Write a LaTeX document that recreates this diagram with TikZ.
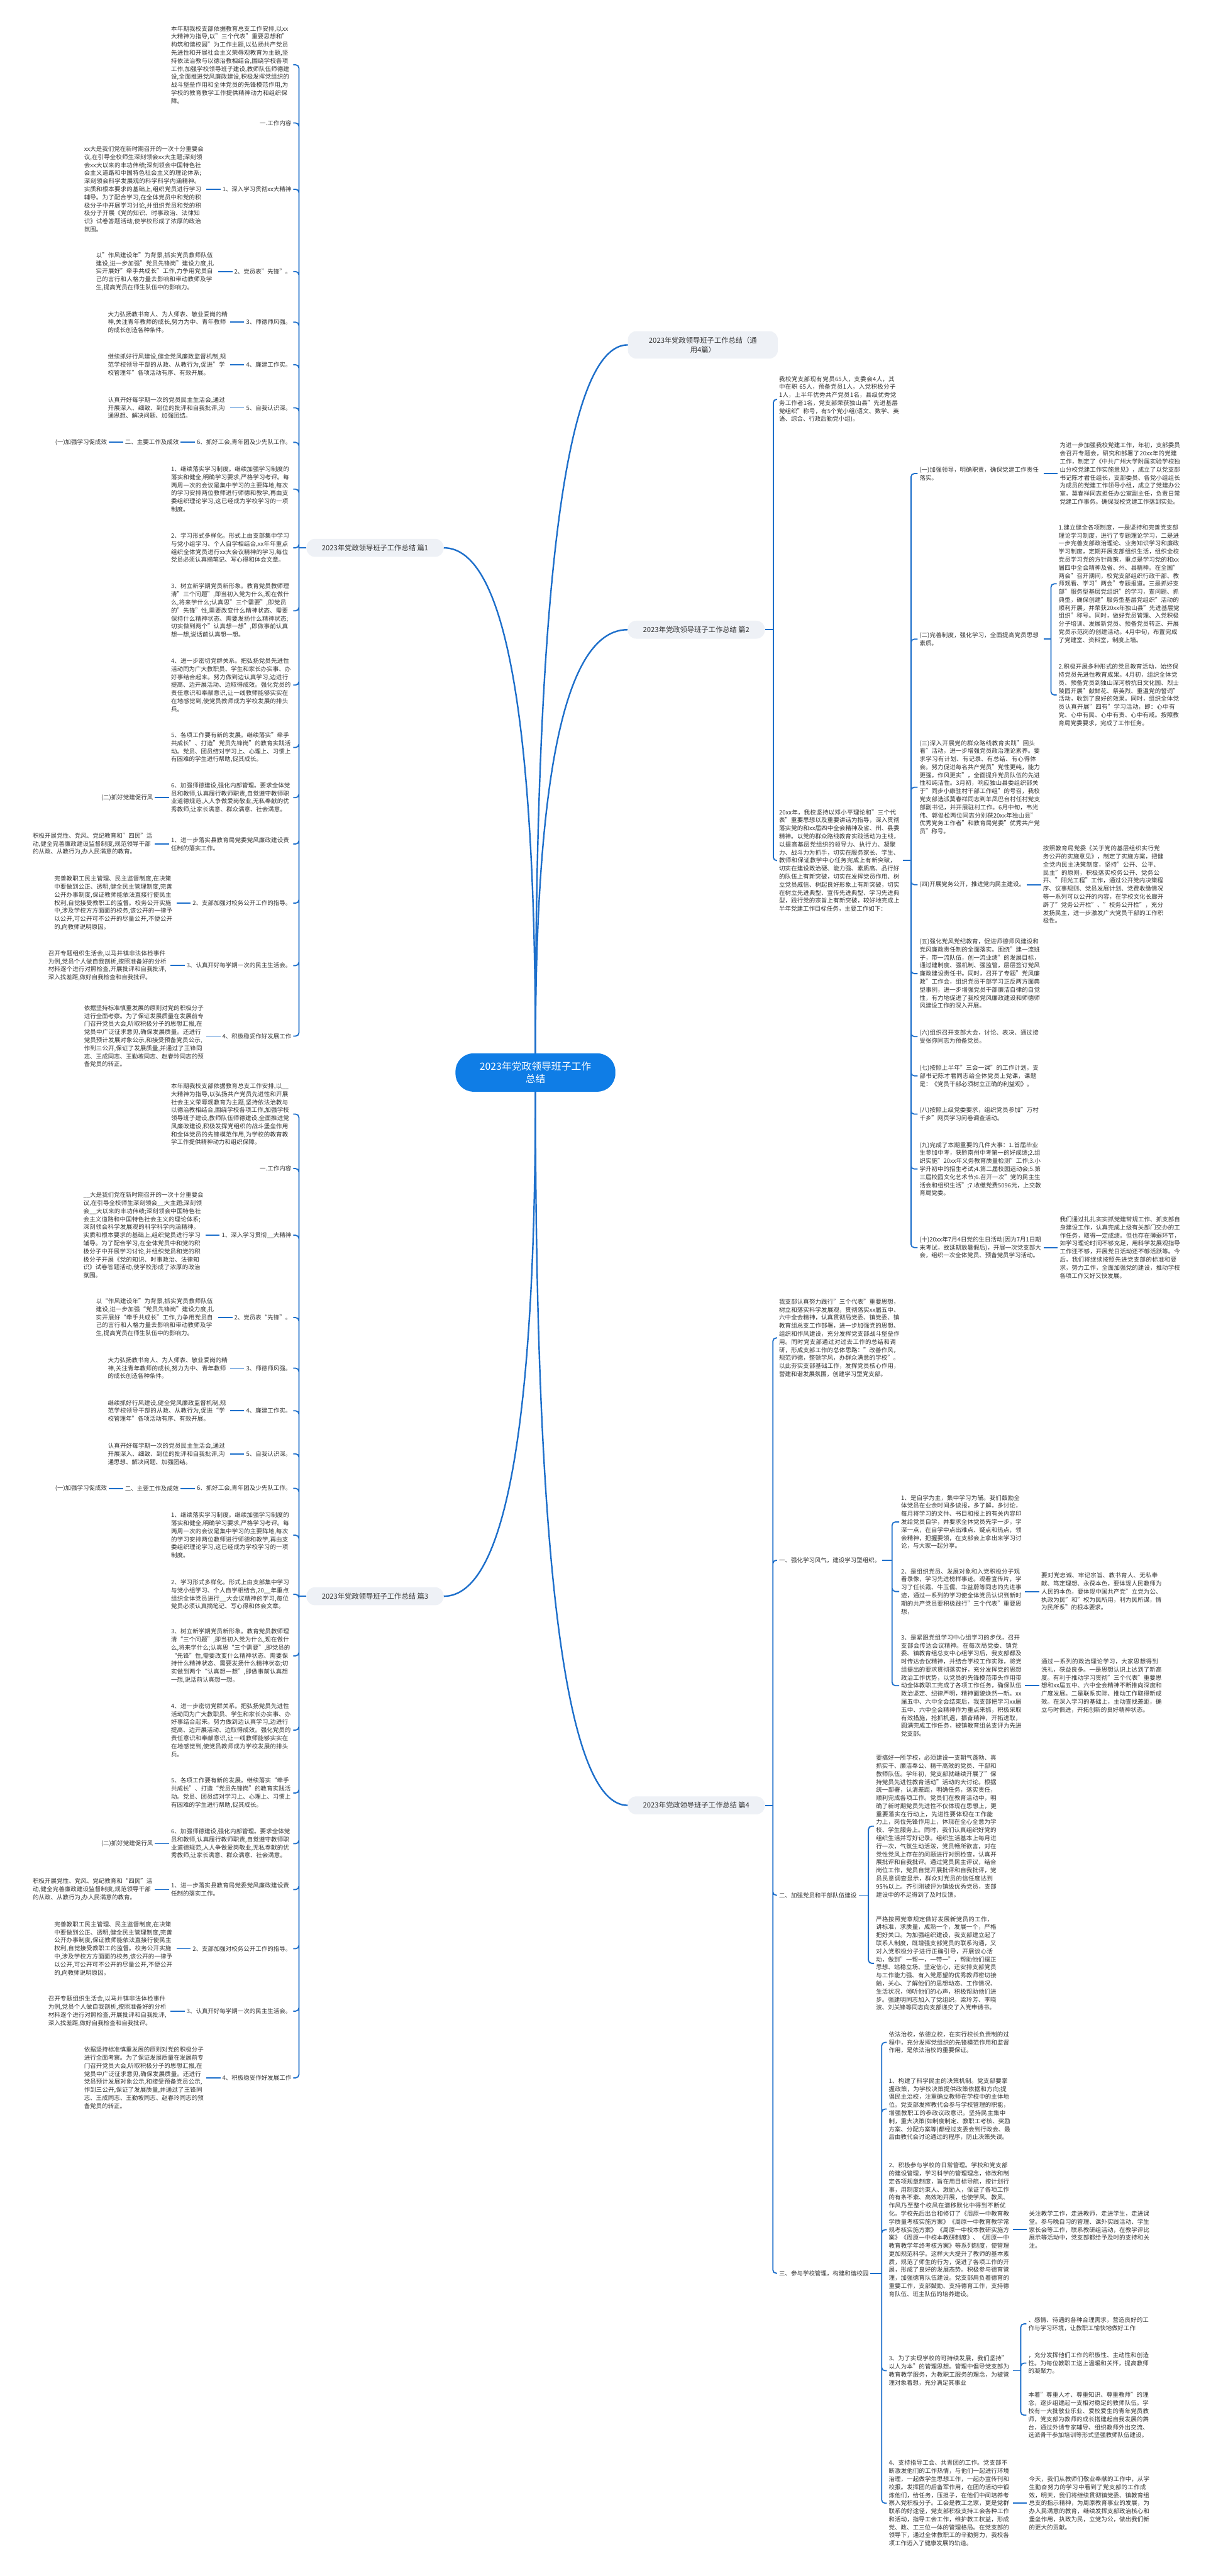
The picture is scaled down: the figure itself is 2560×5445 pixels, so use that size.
\documentclass[tikz,border=0pt]{standalone}
\usepackage{fontspec}
\setmainfont{Noto Sans CJK SC}
\XeTeXlinebreaklocale "zh"
\XeTeXlinebreakskip=0pt plus 1pt
\usepackage{tikz}
\usetikzlibrary{positioning,calc}
\definecolor{cazul}{HTML}{0F7DE6}
\definecolor{clinea}{HTML}{1D6FCB}
\definecolor{cfondo}{HTML}{EEF1F6}
\definecolor{ctexto}{HTML}{333333}
\tikzset{
  raiz/.style={rectangle, rounded corners=38pt, fill=cazul, text=white,
    minimum width=338pt, minimum height=81pt, align=center,
    font=\fontsize{21}{27}\selectfont},
  tema/.style={rectangle, rounded corners=18pt, fill=cfondo, text=ctexto,
    minimum width=290pt, minimum height=38pt, align=center,
    font=\fontsize{15}{20}\selectfont},
  etq/.style={inner sep=4pt, text=ctexto, font=\fontsize{12.6}{17}\selectfont},
  parr/.style={etq, text width=254pt, align=left},
  parrd/.style={etq, text width=258pt, align=left},
  rama/.style={draw=clinea, line width=2.4pt, rounded corners=7pt},
  tronco/.style={draw=clinea, line width=3.2pt},
}

\begin{document}
\begin{tikzpicture}[x=1pt, y=-1pt, node distance=30pt]
  \fill[white] (0,0) rectangle (2560,5445);
  \useasboundingbox (0,0) rectangle (2560,5445);

  % centro y ramas principales
  \node[raiz] (c) at (1132,2267) {2023年党政领导班子工作\\总结};
  \node[tema, minimum width=317pt, minimum height=58pt] (p0) at (1486,729) {2023年党政领导班子工作总结（通\\用4篇）};
  \node[tema] (p1) at (793,1158) {2023年党政领导班子工作总结 篇1};
  \node[tema] (p2) at (1472,1331) {2023年党政领导班子工作总结 篇2};
  \node[tema] (p3) at (793,3374) {2023年党政领导班子工作总结 篇3};
  \node[tema] (p4) at (1472,3816) {2023年党政领导班子工作总结 篇4};

  \coordinate (k0) at (c.north |- p0.west);
  \coordinate (k1) at (c.north |- p1.east);
  \coordinate (k2) at (c.north |- p2.west);
  \coordinate (k3) at (c.south |- p3.east);
  \coordinate (k4) at (c.south |- p4.west);
  \draw[tronco] (c.north) .. controls ($(c.north)!.667!(k0)$) and ($(p0.west)!.667!(k0)$) .. (p0.west);
  \draw[tronco] (c.north) .. controls ($(c.north)!.667!(k1)$) and ($(p1.east)!.667!(k1)$) .. (p1.east);
  \draw[tronco] (c.north) .. controls ($(c.north)!.667!(k2)$) and ($(p2.west)!.667!(k2)$) .. (p2.west);
  \draw[tronco] (c.south) .. controls ($(c.south)!.667!(k3)$) and ($(p3.east)!.667!(k3)$) .. (p3.east);
  \draw[tronco] (c.south) .. controls ($(c.south)!.667!(k4)$) and ($(p4.west)!.667!(k4)$) .. (p4.west);

  % ---------------- 篇1 ----------------
  \node[parr, anchor=east] (a1) at (620,137) {本年期我校支部依据教育总支工作安排,以xx大精神为指导,以"三个代表"重要思想和"构筑和谐校园"为工作主题,以弘扬共产党员先进性和开展社会主义荣辱观教育为主题,坚持依法治教与以德治教相结合,围绕学校各项工作,加强学校领导班子建设,教师队伍师德建设,全面推进党风廉政建设,积极发挥党组织的战斗堡垒作用和全体党员的先锋模范作用,为学校的教育教学工作提供精神动力和组织保障。};
  \node[etq, anchor=east] (a2) at (620,260) {一.工作内容};
  \node[etq, anchor=east] (a3) at (620,400) {1、深入学习贯彻xx大精神};
  \node[etq, anchor=east] (a4) at (620,574) {2、党员表"先锋"。};
  \node[etq, anchor=east] (a5) at (620,681) {3、师德师风强。};
  \node[etq, anchor=east] (a6) at (620,771) {4、廉建工作实。};
  \node[etq, anchor=east] (a7) at (620,862) {5、自我认识深。};
  \node[etq, anchor=east] (a8) at (620,935) {6、抓好工会,青年团及少先队工作。};
  \node[parr, anchor=east] (a9) at (620,1034) {1、继续落实学习制度。继续加强学习制度的落实和健全,明确学习要求,严格学习考评。每两周一次的会议是集中学习的主要阵地,每次的学习安排两位教师进行师德和教学,再由支委组织理论学习,这已经成为学校学习的一项制度。};
  \node[parr, anchor=east] (a10) at (620,1158) {2、学习形式多样化。形式上由支部集中学习与党小组学习、个人自学相结合,xx年年重点组织全体党员进行xx大会议精神的学习,每位党员必须认真摘笔记、写心得和体会文章。};
  \node[parr, anchor=east] (a11) at (620,1291) {3、树立新学期党员新形象。教育党员教师理清"三个问题",即当初入党为什么,现在做什么,将来学什么;认真思"三个需要",即党员的"先锋"性,需要改变什么精神状态、需要保持什么精神状态、需要发扬什么精神状态;切实做到两个"认真想一想",即做事前认真想一想,说话前认真想一想。};
  \node[parr, anchor=east] (a12) at (620,1448) {4、进一步密切党群关系。把弘扬党员先进性活动同为广大教职员、学生和家长办实事、办好事结合起来。努力做到边认真学习,边进行提高、边开展活动、边取得成效。强化党员的责任意识和奉献意识,让一线教师能够实实在在地感觉到,使党员教师成为学校发展的排头兵。};
  \node[parr, anchor=east] (a13) at (620,1580) {5、各项工作要有新的发展。继续落实"牵手共成长"、打造"党员先锋岗"的教育实践活动。党员、团员结对学习上、心理上、习惯上有困难的学生进行帮助,促其成长。};
  \node[parr, anchor=east] (a14) at (620,1686) {6、加强师德建设,强化内部管理。要求全体党员和教师,认真履行教师职责,自觉遵守教师职业道德规范,人人争做爱岗敬业,无私奉献的优秀教师,让家长满意、群众满意、社会满意。};
  \node[parr, anchor=east] (a15) at (620,1784) {1、进一步落实县教育局党委党风廉政建设责任制的落实工作。};
  \node[etq, anchor=east] (a16) at (620,1909) {2、支部加强对校务公开工作的指导。};
  \node[etq, anchor=east] (a17) at (620,2041) {3、认真开好每学期一次的民主生活会。};
  \node[etq, anchor=east] (a18) at (620,2190) {4、积极稳妥作好发展工作};

  \node[parr, left=of a3] (a3h) {xx大是我们党在新时期召开的一次十分重要会议,在引导全校师生深刻领会xx大主题;深刻领会xx大以来的丰功伟绩;深刻领会中国特色社会主义道路和中国特色社会主义的理论体系;深刻领会科学发展观的科学科学内涵精神。实质和根本要求的基础上,组织党员进行学习辅导。为了配合学习,在全体党员中和党的积极分子中开展学习讨论,并组织党员和党的积极分子开展《党的知识、时事政治、法律知识》试卷答题活动,使学校形成了浓厚的政治氛围。};
  \node[parr, left=of a4] (a4h) {以"作风建设年"为背景,抓实党员教师队伍建设,进一步加强"党员先锋岗"建设力度,扎实开展好"牵手共成长"工作,力争用党员自己的言行和人格力量去影响和带动教师及学生,提高党员在师生队伍中的影响力。};
  \node[parr, left=of a5] (a5h) {大力弘扬教书育人、为人师表、敬业爱岗的精神,关注青年教师的成长,努力为中、青年教师的成长创造各种条件。};
  \node[parr, left=of a6] (a6h) {继续抓好行风建设,健全党风廉政监督机制,规范学校领导干部的从政、从教行为,促进"学校管理年"各项活动有序、有效开展。};
  \node[parr, left=of a7] (a7h) {认真开好每学期一次的党员民主生活会,通过开展深入、细致、到位的批评和自我批评,沟通思想、解决问题、加强团结。};
  \node[etq, left=of a8] (a8h) {二、主要工作及成效};
  \node[etq, left=of a8h] (a8hh) {(一)加强学习促成效};
  \node[etq, left=of a14] (a14h) {(二)抓好党建促行风};
  \node[parr, left=of a15] (a15h) {积极开展党性、党风、党纪教育和"四民"活动,健全完善廉政建设监督制度,规范领导干部的从政、从教行为,办人民满意的教育。};
  \node[parr, left=of a16] (a16h) {完善教职工民主管理、民主监督制度,在决策中要做到公正、透明,健全民主管理制度,完善公开办事制度,保证教师能依法直接行使民主权利,自觉接受教职工的监督。校务公开实施中,涉及学校方方面面的校务,该公开的一律予以公开,可公开可不公开的尽量公开,不便公开的,向教师说明原因。};
  \node[parr, left=of a17] (a17h) {召开专题组织生活会,以马井镇非法体检事件为例,党员个人做自我剖析,按照准备好的分析材料逐个进行对照检查,开展批评和自我批评,深入找差距,做好自我检查和自我批评。};
  \node[parr, left=of a18] (a18h) {依据坚持标准慎重发展的原则对党的积极分子进行全面考察。为了保证发展质量在发展前专门召开党员大会,听取积极分子的思想汇报,在党员中广泛征求意见,确保发展质量。还进行党员预计发展对象公示,和接受预备党员公示,作到三公开,保证了发展质量,并通过了王锋同志、王成同志、王勤坡同志、赵春玲同志的预备党员的转正。};

  \coordinate (s1) at (632,0);
  \draw[rama] (p1.west) -- (p1.west -| s1);
  \draw[rama] (p1.west -| s1) |- (a1.east) (p1.west -| s1) |- (a2.east)
    (p1.west -| s1) |- (a3.east) (p1.west -| s1) |- (a4.east)
    (p1.west -| s1) |- (a5.east) (p1.west -| s1) |- (a6.east)
    (p1.west -| s1) |- (a7.east) (p1.west -| s1) |- (a8.east)
    (p1.west -| s1) |- (a9.east) (p1.west -| s1) |- (a10.east)
    (p1.west -| s1) |- (a11.east) (p1.west -| s1) |- (a12.east)
    (p1.west -| s1) |- (a13.east) (p1.west -| s1) |- (a14.east)
    (p1.west -| s1) |- (a15.east) (p1.west -| s1) |- (a16.east)
    (p1.west -| s1) |- (a17.east) (p1.west -| s1) |- (a18.east);
  \draw[rama] (a3.west) -- (a3h.east);
  \draw[rama] (a4.west) -- (a4h.east);
  \draw[rama] (a5.west) -- (a5h.east);
  \draw[rama] (a6.west) -- (a6h.east);
  \draw[rama] (a7.west) -- (a7h.east);
  \draw[rama] (a8.west) -- (a8h.east);
  \draw[rama] (a8h.west) -- (a8hh.east);
  \draw[rama] (a14.west) -- (a14h.east);
  \draw[rama] (a15.west) -- (a15h.east);
  \draw[rama] (a16.west) -- (a16h.east);
  \draw[rama] (a17.west) -- (a17h.east);
  \draw[rama] (a18.west) -- (a18h.east);

  % ---------------- 篇3 ----------------
  \node[parr, anchor=east] (b1) at (620,2355) {本年期我校支部依据教育总支工作安排,以\_\_大精神为指导,以弘扬共产党员先进性和开展社会主义荣辱观教育为主题,坚持依法治教与以德治教相结合,围绕学校各项工作,加强学校领导班子建设,教师队伍师德建设,全面推进党风廉政建设,积极发挥党组织的战斗堡垒作用和全体党员的先锋模范作用,为学校的教育教学工作提供精神动力和组织保障。};
  \node[etq, anchor=east] (b2) at (620,2470) {一.工作内容};
  \node[etq, anchor=east] (b3) at (620,2611) {1、深入学习贯彻\_\_大精神};
  \node[etq, anchor=east] (b4) at (620,2785) {2、党员表“先锋”。};
  \node[etq, anchor=east] (b5) at (620,2892) {3、师德师风强。};
  \node[etq, anchor=east] (b6) at (620,2982) {4、廉建工作实。};
  \node[etq, anchor=east] (b7) at (620,3073) {5、自我认识深。};
  \node[etq, anchor=east] (b8) at (620,3146) {6、抓好工会,青年团及少先队工作。};
  \node[parr, anchor=east] (b9) at (620,3245) {1、继续落实学习制度。继续加强学习制度的落实和健全,明确学习要求,严格学习考评。每两周一次的会议是集中学习的主要阵地,每次的学习安排两位教师进行师德和教学,再由支委组织理论学习,这已经成为学校学习的一项制度。};
  \node[parr, anchor=east] (b10) at (620,3370) {2、学习形式多样化。形式上由支部集中学习与党小组学习、个人自学相结合,20\_\_年重点组织全体党员进行\_\_大会议精神的学习,每位党员必须认真摘笔记、写心得和体会文章。};
  \node[parr, anchor=east] (b11) at (620,3500) {3、树立新学期党员新形象。教育党员教师理清“三个问题”,即当初入党为什么,现在做什么,将来学什么;认真思“三个需要”,即党员的“先锋”性,需要改变什么精神状态、需要保持什么精神状态、需要发扬什么精神状态;切实做到两个“认真想一想”,即做事前认真想一想,说话前认真想一想。};
  \node[parr, anchor=east] (b12) at (620,3657) {4、进一步密切党群关系。把弘扬党员先进性活动同为广大教职员、学生和家长办实事、办好事结合起来。努力做到边认真学习,边进行提高、边开展活动、边取得成效。强化党员的责任意识和奉献意识,让一线教师能够实实在在地感觉到,使党员教师成为学校发展的排头兵。};
  \node[parr, anchor=east] (b13) at (620,3790) {5、各项工作要有新的发展。继续落实“牵手共成长”、打造“党员先锋岗”的教育实践活动。党员、团员结对学习上、心理上、习惯上有困难的学生进行帮助,促其成长。};
  \node[parr, anchor=east] (b14) at (620,3897) {6、加强师德建设,强化内部管理。要求全体党员和教师,认真履行教师职责,自觉遵守教师职业道德规范,人人争做爱岗敬业,无私奉献的优秀教师,让家长满意、群众满意、社会满意。};
  \node[parr, anchor=east] (b15) at (620,3994) {1、进一步落实县教育局党委党风廉政建设责任制的落实工作。};
  \node[etq, anchor=east] (b16) at (620,4119) {2、支部加强对校务公开工作的指导。};
  \node[etq, anchor=east] (b17) at (620,4251) {3、认真开好每学期一次的民主生活会。};
  \node[etq, anchor=east] (b18) at (620,4392) {4、积极稳妥作好发展工作};

  \node[parr, left=of b3] (b3h) {\_\_大是我们党在新时期召开的一次十分重要会议,在引导全校师生深刻领会\_\_大主题;深刻领会\_\_大以来的丰功伟绩;深刻领会中国特色社会主义道路和中国特色社会主义的理论体系;深刻领会科学发展观的科学科学内涵精神。实质和根本要求的基础上,组织党员进行学习辅导。为了配合学习,在全体党员中和党的积极分子中开展学习讨论,并组织党员和党的积极分子开展《党的知识、时事政治、法律知识》试卷答题活动,使学校形成了浓厚的政治氛围。};
  \node[parr, left=of b4] (b4h) {以“作风建设年”为背景,抓实党员教师队伍建设,进一步加强“党员先锋岗”建设力度,扎实开展好“牵手共成长”工作,力争用党员自己的言行和人格力量去影响和带动教师及学生,提高党员在师生队伍中的影响力。};
  \node[parr, left=of b5] (b5h) {大力弘扬教书育人、为人师表、敬业爱岗的精神,关注青年教师的成长,努力为中、青年教师的成长创造各种条件。};
  \node[parr, left=of b6] (b6h) {继续抓好行风建设,健全党风廉政监督机制,规范学校领导干部的从政、从教行为,促进“学校管理年”各项活动有序、有效开展。};
  \node[parr, left=of b7] (b7h) {认真开好每学期一次的党员民主生活会,通过开展深入、细致、到位的批评和自我批评,沟通思想、解决问题、加强团结。};
  \node[etq, left=of b8] (b8h) {二、主要工作及成效};
  \node[etq, left=of b8h] (b8hh) {(一)加强学习促成效};
  \node[etq, left=of b14] (b14h) {(二)抓好党建促行风};
  \node[parr, left=of b15] (b15h) {积极开展党性、党风、党纪教育和“四民”活动,健全完善廉政建设监督制度,规范领导干部的从政、从教行为,办人民满意的教育。};
  \node[parr, left=of b16] (b16h) {完善教职工民主管理、民主监督制度,在决策中要做到公正、透明,健全民主管理制度,完善公开办事制度,保证教师能依法直接行使民主权利,自觉接受教职工的监督。校务公开实施中,涉及学校方方面面的校务,该公开的一律予以公开,可公开可不公开的尽量公开,不便公开的,向教师说明原因。};
  \node[parr, left=of b17] (b17h) {召开专题组织生活会,以马井镇非法体检事件为例,党员个人做自我剖析,按照准备好的分析材料逐个进行对照检查,开展批评和自我批评,深入找差距,做好自我检查和自我批评。};
  \node[parr, left=of b18] (b18h) {依据坚持标准慎重发展的原则对党的积极分子进行全面考察。为了保证发展质量在发展前专门召开党员大会,听取积极分子的思想汇报,在党员中广泛征求意见,确保发展质量。还进行党员预计发展对象公示,和接受预备党员公示,作到三公开,保证了发展质量,并通过了王锋同志、王成同志、王勤坡同志、赵春玲同志的预备党员的转正。};

  \coordinate (s3) at (632,0);
  \draw[rama] (p3.west) -- (p3.west -| s3);
  \draw[rama] (p3.west -| s3) |- (b1.east) (p3.west -| s3) |- (b2.east)
    (p3.west -| s3) |- (b3.east) (p3.west -| s3) |- (b4.east)
    (p3.west -| s3) |- (b5.east) (p3.west -| s3) |- (b6.east)
    (p3.west -| s3) |- (b7.east) (p3.west -| s3) |- (b8.east)
    (p3.west -| s3) |- (b9.east) (p3.west -| s3) |- (b10.east)
    (p3.west -| s3) |- (b11.east) (p3.west -| s3) |- (b12.east)
    (p3.west -| s3) |- (b13.east) (p3.west -| s3) |- (b14.east)
    (p3.west -| s3) |- (b15.east) (p3.west -| s3) |- (b16.east)
    (p3.west -| s3) |- (b17.east) (p3.west -| s3) |- (b18.east);
  \draw[rama] (b3.west) -- (b3h.east);
  \draw[rama] (b4.west) -- (b4h.east);
  \draw[rama] (b5.west) -- (b5h.east);
  \draw[rama] (b6.west) -- (b6h.east);
  \draw[rama] (b7.west) -- (b7h.east);
  \draw[rama] (b8.west) -- (b8h.east);
  \draw[rama] (b8h.west) -- (b8hh.east);
  \draw[rama] (b14.west) -- (b14h.east);
  \draw[rama] (b15.west) -- (b15h.east);
  \draw[rama] (b16.west) -- (b16h.east);
  \draw[rama] (b17.west) -- (b17h.east);
  \draw[rama] (b18.west) -- (b18h.east);

  % ---------------- 篇2 ----------------
  \node[parrd, anchor=west] (r1) at (1643,844) {我校党支部现有党员65人，支委会4人，其中在职 65人，预备党员1人，入党积极分子1人，上半年优秀共产党员1名，县级优秀党务工作者1名，党支部荣获独山县"先进基层党组织"称号，有5个党小组(语文、数学、英语、综合、行政后勤党小组)。};
  \node[parrd, anchor=west] (r2) at (1643,1819) {20xx年，我校坚持以邓小平理论和"三个代表"重要思想以及重要讲话为指导，深入贯彻落实党的和xx届四中全会精神及省、州、县委精神。以党的群众路线教育实践活动为主线，以提高基层党组织的领导力、执行力、凝聚力、战斗力为抓手，切实在服务家长、学生、教师和保证教学中心任务完成上有新突破，切实在建设政治硬、能力强、素质高、品行好的队伍上有新突破，切实在发挥党员作用、树立党员威信、树起良好形象上有新突破，切实在树立先进典型、宣传先进典型、学习先进典型，践行党的宗旨上有新突破，较好地完成上半年党建工作目标任务，主要工作如下：};

  \node[parrd, anchor=west] (q1) at (1940,1001) {(一)加强领导，明确职责，确保党建工作责任落实。};
  \node[parrd, anchor=west] (q2) at (1940,1351) {(二)完善制度，强化学习，全面提高党员思想素质。};
  \node[parrd, anchor=west] (q3) at (1940,1664) {(三)深入开展党的群众路线教育实践"回头看"活动，进一步增强党员政治理论素养。要求学习有计划、有记录、有总结、有心得体会。努力促进每名共产党员"党性更纯，能力更强，作风更实"，全面提升党员队伍的先进性和纯洁性。3月初，响应独山县委组织部关于"同步小康驻村干部工作组"的号召，我校党支部选派莫春祥同志到羊凤巴台村任村党支部副书记，并开展驻村工作。6月中旬，韦光伟、郭俊松两位同志分别获20xx年独山县"优秀党务工作者"和教育局党委"优秀共产党员"称号。};
  \node[etq, anchor=west] (q4) at (1940,1870) {(四)开展党务公开，推进党内民主建设。};
  \node[parrd, anchor=west] (q5) at (1940,2058) {(五)强化党风党纪教育，促进师德师风建设和党风廉政责任制的全面落实。围绕"建一流班子，带一流队伍，创一流业绩"的发展目标，通过建制度、强机制、强监管，层层签订党风廉政建设责任书。同时，召开了专题"党风廉政"工作会，组织党员干部学习正反两方面典型事例，进一步增强党员干部廉洁自律的自觉性，有力地促进了我校党风廉政建设和师德师风建设工作的深入开展。};
  \node[parrd, anchor=west] (q6) at (1940,2191) {(六)组织召开支部大会，讨论、表决、通过接受张弥同志为预备党员。};
  \node[parrd, anchor=west] (q7) at (1940,2274) {(七)按照上半年"三会一课"的工作计划，支部书记陈才君同志给全体党员上党课，课题是：《党员干部必须树立正确的利益观》。};
  \node[parrd, anchor=west] (q8) at (1940,2355) {(八)按照上级党委要求，组织党员参加"万村千乡"网页学习问卷调查活动。};
  \node[parrd, anchor=west] (q9) at (1940,2471) {(九)完成了本期重要的几件大事：1.首届毕业生参加中考，获黔南州中考第一的好成绩;2.组织实施"20xx年义务教育质量检测"工作;3.小学升初中的招生考试;4.第二届校园运动会;5.第三届校园文化艺术节;6.召开一次"党的民主生活会和组织生活";7.收缴党费5096元，上交教育局党委。};
  \node[parrd, anchor=west] (q10) at (1940,2637) {(十)20xx年7月4日党的生日活动(因为7月1日期末考试，故延期放暑假后)，开展一次党支部大会，组织一次全体党员、预备党员学习活动。};

  \node[parrd, right=of q1] (q1h) {为进一步加强我校党建工作，年初，支部委员会召开专题会，研究和部署了20xx年的党建工作，制定了《中共广州大学附属实验学校独山分校党建工作实施意见》，成立了以党支部书记陈才君任组长，支部委员、各党小组组长为成员的党建工作领导小组，成立了党建办公室，莫春祥同志担任办公室副主任，负责日常党建工作事务。确保我校党建工作落到实处。};
  \node[parrd, anchor=west] (q2a) at (2234,1234) {1.建立健全各项制度，一是坚持和完善党支部理论学习制度，进行了专题理论学习，二是进一步完善支部政治理论、业务知识学习和廉政学习制度，定期开展支部组织生活，组织全校党员学习党的方针政策，重点是学习党的和xx届四中全会精神及省、州、县精神。在全国"两会"召开期间，校党支部组织行政干部、教师观看、学习"两会"专题报道。三是抓好支部"服务型基层党组织"的学习，查问题、抓典型，确保创建"服务型基层党组织"活动的顺利开展，并荣获20xx年独山县"先进基层党组织"称号。同时，做好党员管理、入党积极分子培训、发展新党员、预备党员转正、开展党员示范岗的创建活动。4月中旬，布置完成了党建室、资料室，制度上墙。};
  \node[parrd, anchor=west] (q2b) at (2234,1469) {2.积极开展多种形式的党员教育活动，始终保持党员先进性教育成果。4月初，组织全体党员、预备党员到独山深河桥抗日文化园、烈士陵园开展"献鲜花、祭英烈、重温党的誓词"活动，收到了良好的效果。同时，组织全体党员认真开展"四有"学习活动，即：心中有党、心中有民、心中有责、心中有戒。按照教育局党委要求，完成了工作任务。};
  \node[parrd, right=of q4] (q4h) {按照教育局党委《关于党的基层组织实行党务公开的实施意见》，制定了实施方案，把健全党内民主决策制度，坚持"公开、公平、民主"的原则，积极落实校务公开、党务公开、"阳光工程"工作，通过公开党内决策程序、议事规则、党员发展计划、党费收缴情况等一系列可以公开的内容，在学校文化长廊开辟了"党务公开栏"、"校务公开栏"，充分发扬民主，进一步激发广大党员干部的工作积极性。};
  \node[parrd, right=of q10] (q10h) {我们通过扎扎实实抓党建常规工作、抓支部自身建设工作，认真完成上级有关部门交办的工作任务，取得一定成绩。但也存在薄弱环节，如学习理论时间不够充足，用科学发展观指导工作还不够，开展党日活动还不够活跃等。今后，我们将继续按照先进党支部的标准和要求，努力工作，全面加强党的建设，推动学校各项工作又好又快发展。};

  \coordinate (s2) at (1635,0);
  \coordinate (s2r) at (1926,0);
  \coordinate (s2q) at (2222,0);
  \draw[rama] (p2.east) -- (p2.east -| s2);
  \draw[rama] (p2.east -| s2) |- (r1.west) (p2.east -| s2) |- (r2.west);
  \draw[rama] (r2.east) -- (r2.east -| s2r);
  \draw[rama] (r2.east -| s2r) |- (q1.west) (r2.east -| s2r) |- (q2.west)
    (r2.east -| s2r) |- (q3.west) (r2.east -| s2r) |- (q4.west)
    (r2.east -| s2r) |- (q5.west) (r2.east -| s2r) |- (q6.west)
    (r2.east -| s2r) |- (q7.west) (r2.east -| s2r) |- (q8.west)
    (r2.east -| s2r) |- (q9.west) (r2.east -| s2r) |- (q10.west);
  \draw[rama] (q1.east) -- (q1h.west);
  \draw[rama] (q2.east) -- (q2.east -| s2q);
  \draw[rama] (q2.east -| s2q) |- (q2a.west) (q2.east -| s2q) |- (q2b.west);
  \draw[rama] (q4.east) -- (q4h.west);
  \draw[rama] (q10.east) -- (q10h.west);

  % ---------------- 篇4 ----------------
  \node[parrd, anchor=west] (u1) at (1643,2828) {我支部认真努力践行"三个代表"重要思想，树立和落实科学发展观，贯彻落实xx届五中、六中全会精神，认真贯彻局党委、镇党委、镇教育组总支工作部署，进一步加强党的思想、组织和作风建设，充分发挥党支部战斗堡垒作用。同时党支部通过对过去工作的总结和调研，形成支部工作的总体思路："改善作风，规范师德，整顿学风，办群众满意的学校"。以此夯实支部基础工作，发挥党员核心作用，营建和谐发展氛围，创建学习型党支部。};
  \node[etq, anchor=west] (u2) at (1643,3298) {一、强化学习风气，建设学习型组织。};
  \node[etq, anchor=west] (u3) at (1643,4006) {二、加强党员和干部队伍建设};
  \node[etq, anchor=west] (u4) at (1643,4805) {三、参与学校管理，构建和谐校园};

  \node[parrd, anchor=west] (v1) at (1901,3217) {1、是自学为主，集中学习为辅。我们鼓励全体党员在业余时间多读报，多了解，多讨论，每月将学习的文件、书目和报上的有关内容印发给党员自学，并要求全体党员先学一步，学深一点，在自学中点出难点、疑点和热点，领会精神，把握要领，在支部会上拿出来学习讨论，与大家一起分享。};
  \node[parrd, anchor=west] (v2) at (1901,3364) {2、是组织党员、发展对象和入党积极分子观看录像，学习先进榜样事迹。观看宣传片，学习了任长霞、牛玉儒、华益蔚等同志的先进事迹，通过一系列的学习使全体党员认识到新时期的共产党员要积极践行"三个代表"重要思想，};
  \node[parrd, anchor=west] (v3) at (1901,3563) {3、是紧跟党组学习中心组学习的步伐，召开支部会传达会议精神。在每次局党委、镇党委、镇教育组总支中心组学习后，我支部都及时传达会议精神，并结合学校工作实际，将党组提出的要求贯彻落实好，充分发挥党的思想政治工作优势，以党员的先锋模范带头作用带动全体教职工完成了各项工作任务，确保队伍政治坚定、纪律严明，精神面貌焕然一新。xx届五中、六中全会结束后，我支部把学习xx届五中、六中全会精神作为重点来抓，积极采取有效措施，抢抓机遇，振奋精神，开拓进取，圆满完成工作任务，被镇教育组总支评为先进党支部。};
  \node[parrd, right=of v2] (v2h) {要对党忠诚、牢记宗旨、教书育人、无私奉献、笃定理想、永葆本色，要体现人民教师为人民的本色，要体现中国共产党"立党为公、执政为民"和"权为民所用，利为民所谋，情为民所系"的根本要求。};
  \node[parrd, right=of v3] (v3h) {通过一系列的政治理论学习，大家思想得到洗礼，获益良多。一是思想认识上达到了新高度。有利于推动学习贯彻"三个代表"重要思想和xx届五中、六中全会精神不断推向深度和广度发展。二是联系实际、推动工作取得新成效。在深入学习的基础上，主动查找差距，确立与时俱进，开拓创新的良好精神状态。};

  \node[parrd, anchor=west] (x1) at (1848,3860) {要搞好一所学校，必须建设一支朝气蓬勃、真抓实干、廉洁奉公、精干高效的党员、干部和教师队伍。学年初，党支部就继续开展了"保持党员先进性教育活动"活动的大讨论。根据统一部署，认清差距，明确任务，落实责任，顺利完成各项工作。党员们在教育活动中，明确了新时期党员先进性不仅体现在思想上，更重要落实在行动上，先进性要体现在工作能力上，岗位先锋作用上，体现在全心全意为学校、学生服务上。同时，我们认真组织好党的组织生活并写好记录。组织生活基本上每月进行一次，气氛生动活泼，党员畅所欲言，对在党性党风上存在的问题进行对照检查，认真开展批评和自我批评。通过党员民主评议，结合岗位工作，党员自觉开展批评和自我批评，党员民意调查显示，群众对党员的信任度达到95\%以上。齐引刚被评为镇级优秀党员，支部建设中的不足得到了及时反馈。};
  \node[parrd, anchor=west] (x2) at (1848,4150) {严格按照党章规定做好发展新党员的工作，讲标准，求质量，成熟一个，发展一个，严格把好关口。为加强组织建设，我支部建立起了联系人制度，既增强支部党员的联系沟通，又对入党积极分子进行正确引导，开展谈心活动，做到"一帮一，一带一"，帮助他们摆正思想、站稳立场、坚定信心，还安排支部党员与工作能力强、有入党愿望的优秀教师密切接触，关心、了解他们的思想动态、工作情况、生活状况，倾听他们的心声，积极帮助他们进步。强建明同志加入了党组织。梁玲芳、李晓波、刘关锋等同志向支部递交了入党申请书。};

  \node[parrd, anchor=west] (y1) at (1875,4317) {依法治校，依德立校，在实行校长负责制的过程中，充分发挥党组织的先锋模范作用和监督作用，是依法治校的重要保证。};
  \node[parrd, anchor=west] (y2) at (1875,4458) {1、构建了科学民主的决策机制。党支部要掌握政策，为学校决策提供政策依据和方向;提倡民主治校，注重确立教师在学校中的主体地位。党支部发挥教代会参与学校管理的职能，增强教职工的参政议政意识。坚持民主集中制，重大决策(如制度制定、教职工考核、奖励方案、分配方案等)都经过支委会到行政会、最后由教代会讨论通过的程序，防止决策失误。};
  \node[parrd, anchor=west] (y3) at (1875,4713) {2、积极参与学校的日常管理。学校和党支部的建设管理，学习科学的管理理念，修改和制定各项规章制度，旨在用目标导航，按计划行事，用制度约束人、激励人，保证了各项工作的有条不紊、高效地开展，也使学风、教风、作风乃至整个校风在潜移默化中得到不断优化。学校先后出台和修订了《周原一中教育教学质量考核实施方案》《周原一中教育教学常规考核实施方案》《周原一中校本教研实施方案》《周原一中校本教研制度》、《周原一中教育教学年终考核方案》等系列制度，使管理更加规范科学。这样大大提升了教师的基本素质，规范了师生的行为，促进了各项工作的开展，形成了良好的发展态势。积极参与德育管理，加强德育队伍建设。党支部肩负着德育的重要工作，支部鼓励、支持德育工作，支持德育队伍、班主队伍的培养建设。};
  \node[parrd, anchor=west] (y4) at (1875,5011) {3、为了实现学校的可持续发展，我们坚持"以人为本"的管理思想。管理中倡导党支部为教育教学服务，为教职工服务的理念，为被管理对象着想，充分满足其事业};
  \node[parrd, anchor=west] (y5) at (1875,5291) {4、支持指导工会、共青团的工作。党支部不断激发他们的工作热情，与他们一起进行环境治理，一起做学生思想工作，一起办宣传刊和校报。发挥团的后备军作用，在团的活动中锻炼他们，给任务，压担子，在他们中间培养考察入党积极分子。工会是教工之家，更是党群联系的好途径，党支部积极支持工会各种工作和活动，指导工会工作，维护教工权益，形成党、政、工三位一体的管理格局。在党支部的领导下，通过全体教职工的辛勤努力，我校各项工作迈入了健康发展的轨道。};
  \node[parrd, right=of y3] (y3h) {关注教学工作，走进教师，走进学生，走进课堂。参与晚自习的管理、课外实践活动、学生家长会等工作，联系教研组活动，在教学评比展示等活动中，党支部都给予及时的支持和关注。};
  \node[parrd, anchor=west] (y4a) at (2170,4912) {、感情、待遇的各种合理需求，营造良好的工作与学习环境，让教职工愉快地做好工作};
  \node[parrd, anchor=west] (y4b) at (2170,4995) {，充分发挥他们工作的积极性、主动性和创造性。为每位教职工送上温暖和关怀，提高教师的凝聚力。};
  \node[parrd, anchor=west] (y4c) at (2170,5105) {本着"尊重人才、尊重知识、尊重教师"的理念，逐步组建起一支相对稳定的教师队伍。学校有一大批敬业乐业、爱校爱生的青年党员教师，党支部为教师的成长搭建起自我发展的舞台，通过外请专家辅导、组织教师外出交流、选派骨干参加培训等形式坚强教师队伍建设。};
  \node[parrd, right=of y5] (y5h) {今天，我们从教师们敬业奉献的工作中，从学生勤奋努力的学习中看到了党支部的工作成效，明天，我们将继续贯彻镇党委、镇教育组总支的指示精神，为周原教育事业的发展，为办人民满意的教育，继续发挥支部政治核心和堡垒作用，执政为民，立党为公，做出我们新的更大的贡献。};

  \coordinate (s4) at (1634,0);
  \coordinate (s4a) at (1886,0);
  \coordinate (s4b) at (1836,0);
  \coordinate (s4c) at (1864,0);
  \coordinate (s4d) at (2158,0);
  \draw[rama] (p4.east) -- (p4.east -| s4);
  \draw[rama] (p4.east -| s4) |- (u1.west) (p4.east -| s4) |- (u2.west)
    (p4.east -| s4) |- (u3.west) (p4.east -| s4) |- (u4.west);
  \draw[rama] (u2.east) -- (u2.east -| s4a);
  \draw[rama] (u2.east -| s4a) |- (v1.west) (u2.east -| s4a) |- (v2.west)
    (u2.east -| s4a) |- (v3.west);
  \draw[rama] (v2.east) -- (v2h.west);
  \draw[rama] (v3.east) -- (v3h.west);
  \draw[rama] (u3.east) -- (u3.east -| s4b);
  \draw[rama] (u3.east -| s4b) |- (x1.west) (u3.east -| s4b) |- (x2.west);
  \draw[rama] (u4.east) -- (u4.east -| s4c);
  \draw[rama] (u4.east -| s4c) |- (y1.west) (u4.east -| s4c) |- (y2.west)
    (u4.east -| s4c) |- (y3.west) (u4.east -| s4c) |- (y4.west)
    (u4.east -| s4c) |- (y5.west);
  \draw[rama] (y3.east) -- (y3h.west);
  \draw[rama] (y4.east) -- (y4.east -| s4d);
  \draw[rama] (y4.east -| s4d) |- (y4a.west) (y4.east -| s4d) |- (y4b.west)
    (y4.east -| s4d) |- (y4c.west);
  \draw[rama] (y5.east) -- (y5h.west);
\end{tikzpicture}
\end{document}
